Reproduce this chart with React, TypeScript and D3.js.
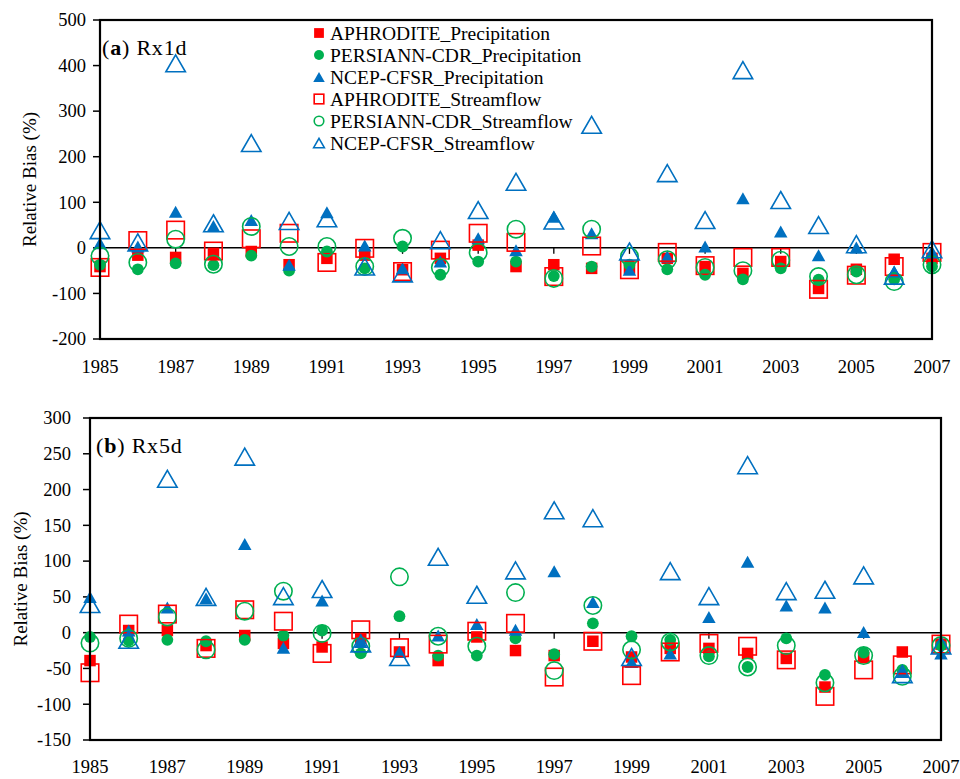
import React from "react";
import * as d3 from "d3";

const years = [1985,1986,1987,1988,1989,1990,1991,1992,1993,1994,1995,1996,1997,1998,1999,2000,2001,2002,2003,2004,2005,2006,2007];
const xTickYears = [1985,1987,1989,1991,1993,1995,1997,1999,2001,2003,2005,2007];

const seriesNames = [
  "APHRODITE_Precipitation",
  "PERSIANN-CDR_Precipitation",
  "NCEP-CFSR_Precipitation",
  "APHRODITE_Streamflow",
  "PERSIANN-CDR_Streamflow",
  "NCEP-CFSR_Streamflow",
];

// Panel (a) Rx1d
const aphP_a = [-41,-16,-21,-12,-8,-37,-23,-16,-48,-23,6,-41,-37,-45,-45,-23,-41,-56,-30,-89,-47,-25,-23];
const perP_a = [-37,-47,-34,-38,-17,-50,-8,-45,3,-59,-30,-30,-62,-41,-37,-47,-59,-69,-45,-70,-52,-69,-41];
const ncepP_a = [10,3,79,48,61,-37,78,5,-45,-30,21,-5,68,32,-48,-19,3,109,36,-16,1,-52,-8];
const aphS_a = [-43,16,39,-7,20,32,-32,-1,-52,-5,32,12,-63,4,-48,-10,-39,-21,-21,-91,-60,-41,-10];
const perS_a = [-18,-32,19,-36,47,3,3,-41,21,-43,-10,41,-67,41,-19,-26,-43,-50,-27,-63,-59,-74,-37];
const ncepS_a = [39,12,405,54,230,59,65,-41,-56,17,83,145,60,270,-8,164,61,390,105,50,8,-61,-3];

// Panel (b) Rx5d
const aphP_b = [-39,3,3,-18,-4,-15,-20,-8,-27,-39,-6,-25,-32,-12,-34,-22,-22,-29,-36,-76,-35,-27,-16];
const perP_b = [-6,-11,-10,-12,-10,-4,3,-29,23,-32,-32,-8,-30,13,-5,-10,-33,-48,-8,-59,-28,-52,-18];
const ncepP_b = [50,3,35,48,124,-21,45,-13,-27,-4,12,4,86,43,-41,-29,22,99,38,35,1,-55,-29];
const aphS_b = [-56,12,26,-22,32,16,-29,4,-21,-16,2,13,-62,-12,-60,-27,-15,-19,-38,-89,-52,-45,-16];
const perS_b = [-14.5,-8,22,-24,30,58,-1,-19,78,-5,-19,56,-53,38,-24,-13,-32,-48,-18,-70,-32,-61,-18];
const ncepS_b = [40,-10,215,50,246,51,61,-15,-34,106,53,87,171,160,-34,86,51,234,58,60,80,-58,-18];

const yTicksA = [-200,-100,0,100,200,300,400,500];
const yTicksB = [-150,-100,-50,0,50,100,150,200,250,300];

const RED = "#FF0000";
const GREEN = "#00B050";
const BLUE = "#0070C0";
const FONT = "'Liberation Serif', 'Times New Roman', serif";

type Kind = "sq" | "ci" | "tr";
const styles: { kind: Kind; color: string; filled: boolean }[] = [
  { kind: "sq", color: RED, filled: true },
  { kind: "ci", color: GREEN, filled: true },
  { kind: "tr", color: BLUE, filled: true },
  { kind: "sq", color: RED, filled: false },
  { kind: "ci", color: GREEN, filled: false },
  { kind: "tr", color: BLUE, filled: false },
];

function Marker({ x, y, kind, color, filled, scale = 1 }: any) {
  const fill = filled ? color : "none";
  const stroke = filled ? "none" : color;
  const sw = 1.6;
  if (kind === "sq") {
    const s = (filled ? 11.5 : 17.5) * scale;
    return <rect x={x - s / 2} y={y - s / 2} width={s} height={s} fill={fill} stroke={stroke} strokeWidth={sw} />;
  }
  if (kind === "ci") {
    const r = (filled ? 5.9 : 8.7) * scale;
    return <circle cx={x} cy={y} r={r} fill={fill} stroke={stroke} strokeWidth={sw} />;
  }
  const w = (filled ? 13.5 : 19.5) * scale;
  const h = (filled ? 12 : 17) * scale;
  const p = `M${x},${y - h / 2}L${x + w / 2},${y + h / 2}L${x - w / 2},${y + h / 2}Z`;
  return <path d={p} fill={fill} stroke={stroke} strokeWidth={sw} strokeLinejoin="miter" />;
}

function Panel({ left, right, top, bottom, domain, ticks, data, title, titleLetter, labelX, labelBaselineX, tickLabelRight, xLabelBaseline, legend }: any) {
  const x = d3.scaleLinear().domain([1985, 2007]).range([left, right]);
  const y = d3.scaleLinear().domain(domain).range([bottom, top]);
  const y0 = y(0);
  return (
    <g>
      {ticks.map((t: number) => (
        <g key={"yt" + t}>
          <line x1={left - 7} x2={left} y1={y(t)} y2={y(t)} stroke="#000" strokeWidth={1.5} />
          <text x={tickLabelRight} y={y(t)} dy="0.34em" textAnchor="end" fontFamily={FONT} fontSize={18.5} fill="#000">{t}</text>
        </g>
      ))}
      {xTickYears.map((yr) => (
        <text key={"xl" + yr} x={x(yr)} y={xLabelBaseline} textAnchor="middle" fontFamily={FONT} fontSize={18.5} fill="#000">{yr}</text>
      ))}
      <line x1={left} x2={right} y1={y0} y2={y0} stroke="#000" strokeWidth={1.5} />
      {xTickYears.map((yr) => (
        <line key={"xt" + yr} x1={x(yr)} x2={x(yr)} y1={y0} y2={y0 + 6} stroke="#000" strokeWidth={1.3} />
      ))}
      <text transform={`translate(${labelBaselineX},${(top + bottom) / 2}) rotate(-90)`} textAnchor="middle" fontFamily={FONT} fontSize={19} fill="#000">Relative Bias (%)</text>
      <text x={labelX} y={top + 35} fontFamily={FONT} fontSize={22} fill="#000" letterSpacing={0.8}>
        (<tspan fontWeight="bold">{titleLetter}</tspan>) {title}
      </text>
      {data.map((vals: number[], si: number) => (
        <g key={"s" + si}>
          {vals.map((v: number, i: number) => (
            <Marker key={i} x={x(years[i])} y={y(v)} {...styles[si]} />
          ))}
        </g>
      ))}
      <rect x={left} y={top} width={right - left} height={bottom - top} fill="none" stroke="#000" strokeWidth={2.2} />
      {legend && (
        <g>
          {seriesNames.map((n, i) => {
            const by = 40 + i * 22;
            return (
              <g key={n}>
                <Marker x={319} y={by - 7} {...styles[i]} scale={styles[i].filled ? 0.85 : 0.55} />
                <text x={330} y={by} fontFamily={FONT} fontSize={19.5} fill="#000">{n}</text>
              </g>
            );
          })}
        </g>
      )}
    </g>
  );
}

export default function App() {
  return (
    <svg width={960} height={779} style={{ position: "absolute", left: 0, top: 0, background: "#fff" }}>
      <rect x={0} y={0} width={960} height={779} fill="#fff" />
      <Panel
        left={100} right={932} top={20} bottom={339}
        domain={[-200, 500]} ticks={yTicksA}
        data={[aphP_a, perP_a, ncepP_a, aphS_a, perS_a, ncepS_a]}
        title="Rx1d" titleLetter="a" labelX={102}
        labelBaselineX={36} tickLabelRight={86} xLabelBaseline={373}
        legend={true}
      />
      <Panel
        left={90} right={941} top={418} bottom={740}
        domain={[-150, 300]} ticks={yTicksB}
        data={[aphP_b, perP_b, ncepP_b, aphS_b, perS_b, ncepS_b]}
        title="Rx5d" titleLetter="b" labelX={96}
        labelBaselineX={27} tickLabelRight={71} xLabelBaseline={773}
        legend={false}
      />
    </svg>
  );
}
